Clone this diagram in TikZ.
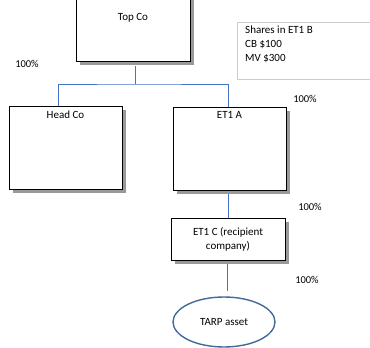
\documentclass[tikz,border=0pt]{standalone}
\usepackage{fontspec}
\setmainfont{Carlito}
\usetikzlibrary{shapes.geometric}

\definecolor{linkblue}{HTML}{4472C4}
\definecolor{assetblue}{HTML}{41699A}
\definecolor{shadegray}{HTML}{999999}

\tikzset{
  company/.style={draw=black, fill=white, line width=0.8pt},
  shade/.style={fill=shadegray, draw=none},
  bigbox/.style={minimum width=113pt, minimum height=83pt},
  topbox/.style={minimum width=114pt, minimum height=86pt},
  smallbox/.style={minimum width=114pt, minimum height=42pt},
  link/.style={draw=linkblue, line width=0.9pt},
  pct/.style={font=\fontsize{10.5}{12}\selectfont}
}

\begin{document}
\begin{tikzpicture}[x=1pt, y=-1pt, font=\fontsize{11}{14}\selectfont]
    \useasboundingbox (0,0) rectangle (370,348);

    % Shadows first, then the company boxes on top of them
    \node[shade, topbox] (topsh) at (136.5,21.5) {};
    \node[shade, bigbox] (headsh) at (69,151) {};
    \node[shade, bigbox] (etash) at (233,152) {};
    \node[shade, smallbox] (etcsh) at (231.5,242.5) {};

    \node[company, topbox] (top) at (133,18) {Top Co};
    \node[company, bigbox, label={[anchor=north, inner sep=5pt]north:Head Co}] (head) at (65.5,147.5) {};
    \node[company, bigbox, label={[anchor=north, inner sep=5pt]north:ET1 A}] (eta) at (229.5,148.5) {};
    \node[company, smallbox, align=center] (etc) at (228,239) {ET1 C (recipient\\company)};

    % The asset at the bottom
    \node[ellipse, draw=assetblue, line width=1.4pt, minimum width=102pt,
          minimum height=50pt] (tarp) at (224,322) {TARP asset};

    % Note on the shares
    \node[draw=gray!40, line width=0.8pt, minimum width=140pt, minimum height=57pt] (note) at (307,50.5) {};
    \node[anchor=north west, align=left, inner sep=0pt] (notetext) at (245,26)
        {Shares in ET1 B\\CB \$100\\MV \$300};

    % Ownership lines
    \coordinate (split) at (135,84);
    \draw[link] ([yshift=-5pt]top.south -| split) -- (split);
    \draw[link] (head.north -| 58,0) |- (split) -| (eta.north -| 228,0);
    \draw[link] (etc.north |- etash.south) -- (etc.north);
    \draw[link] (etcsh.south -| 227.5,0) -- ([yshift=5pt]tarp.north -| 227.5,0);

    % Percentages
    \node[pct] (p1) at (27,64) {100\%};
    \node[pct] (p2) at (305,99) {100\%};
    \node[pct] (p3) at (310,207) {100\%};
    \node[pct] (p4) at (307,280) {100\%};

\end{tikzpicture}
\end{document}
